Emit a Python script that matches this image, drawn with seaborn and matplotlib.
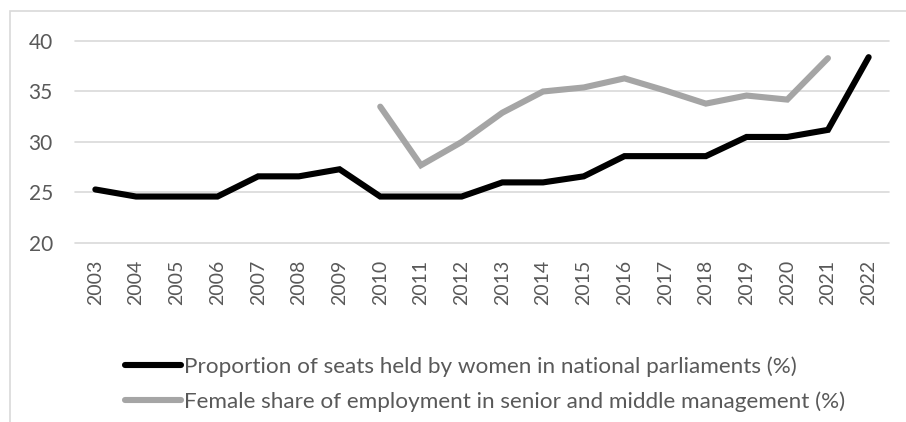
import numpy as np
import pandas as pd
import matplotlib
matplotlib.use("Agg")
import matplotlib.pyplot as plt
import seaborn as sns
from matplotlib.patches import Rectangle

years = list(range(2003, 2023))
parliament_seats = [25.3, 24.6, 24.6, 24.6, 26.6, 26.6, 27.3, 24.6, 24.6, 24.6,
                    26.0, 26.0, 26.6, 28.6, 28.6, 28.6, 30.5, 30.5, 31.2, 38.4]
mgmt_years = list(range(2010, 2022))
management_share = [33.5, 27.7, 30.0, 32.9, 35.0, 35.4, 36.3, 35.1, 33.8, 34.6, 34.2, 38.3]

label_seats = "Proportion of seats held by women in national parliaments (%)"
label_mgmt = "Female share of employment in senior and middle management (%)"
yticks = [20, 25, 30, 35, 40]

df = pd.concat([
    pd.DataFrame({"year": years, "value": parliament_seats, "series": label_seats}),
    pd.DataFrame({"year": mgmt_years, "value": management_share, "series": label_mgmt}),
], ignore_index=True)

sns.set_theme(style="white")
plt.rcParams["font.family"] = ["Lato", "DejaVu Sans"]
text_color = "#595959"
grid_color = "#d9d9d9"
black = "#000000"
gray = "#a5a5a5"

fig = plt.figure(figsize=(9.06, 4.22), dpi=100)
ax = fig.add_axes([75 / 906, 1 - 243 / 422, (889 - 75) / 906, (243 - 41) / 422])

sns.lineplot(data=df, x="year", y="value", hue="series",
             palette={label_seats: black, label_mgmt: gray},
             linewidth=4.4, ax=ax, legend=False, sort=False)
for ln in ax.get_lines():
    ln.set_solid_capstyle("round")
    ln.set_solid_joinstyle("miter")

ax.set_xlim(years[0] - 0.5, years[-1] + 0.5)
ax.set_ylim(yticks[0], yticks[-1])
ax.set_yticks(yticks)
ax.set_xticks(years)
ax.set_xticklabels([str(y) for y in years], rotation=90, fontsize=14, color=text_color)
ax.set_yticklabels([str(v) for v in yticks], fontsize=15, color=text_color)
ax.tick_params(axis="both", length=0)
ax.tick_params(axis="x", pad=12)
ax.tick_params(axis="y", pad=16)
ax.set_xlabel("")
ax.set_ylabel("")
for s in ax.spines.values():
    s.set_visible(False)
for v in yticks:
    ax.axhline(v, color=grid_color, linewidth=1.2, zorder=0, clip_on=False)

# chart area border
fig.patches.append(Rectangle((10 / 906, -0.2), 1.5, 1.2 - 11 / 422,
                             transform=fig.transFigure, fill=False,
                             edgecolor=grid_color, linewidth=1.2))

handles = [plt.Line2D([], [], color=black, linewidth=4.4, solid_capstyle="round"),
           plt.Line2D([], [], color=gray, linewidth=4.4, solid_capstyle="round")]
leg = fig.legend(handles, [label_seats, label_mgmt], loc="upper left",
                 bbox_to_anchor=(125 / 906, 1 - 356 / 422), frameon=False,
                 fontsize=16.2, handlelength=2.5, handletextpad=0.1,
                 labelspacing=0.65, borderaxespad=0, borderpad=0)
for t in leg.get_texts():
    t.set_color(text_color)

fig.savefig("out.png", dpi=100)
